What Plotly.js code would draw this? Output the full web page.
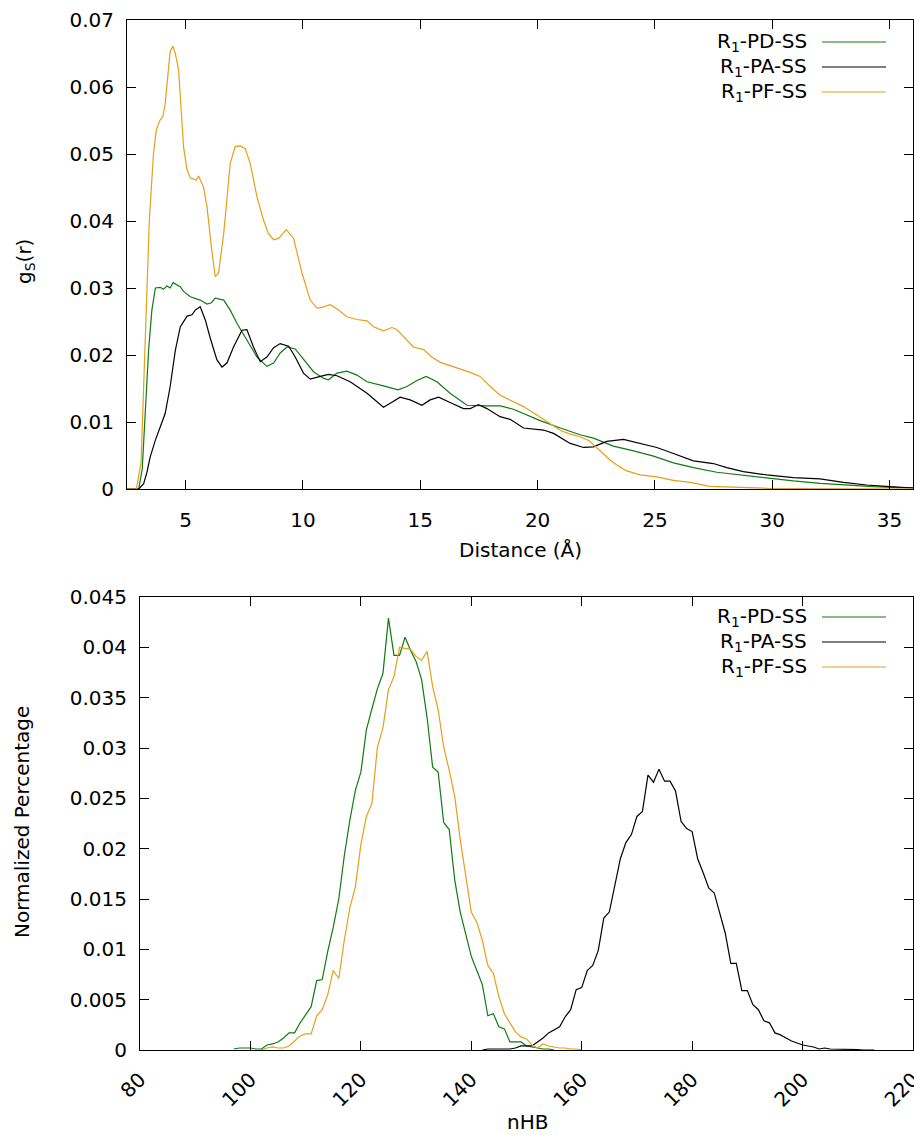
<!DOCTYPE html>
<html>
<head>
<meta charset="utf-8">
<script src="https://cdn.plot.ly/plotly-3.0.1.min.js"></script>
<style>html,body{margin:0;padding:0;background:#fff;}#chart{width:914px;height:1135px;}</style>
</head>
<body>
<div id="chart"></div>
<script>
// ---------- Top panel: g_S(r) vs distance ----------
const pdX = [2.5,3.0,3.15,3.3,3.42,3.56,3.71,3.92,4.05,4.2,4.34,4.46,4.63,4.77,4.91,5.2,5.62,5.91,6.1,6.26,6.62,6.9,7.19,7.61,8.04,8.46,8.75,9.03,9.32,9.67,10.02,10.45,10.88,11.09,11.45,11.87,12.3,12.73,13.43,14.05,14.43,14.86,15.25,15.71,16.27,16.99,17.84,18.41,18.97,19.54,20.11,20.97,21.81,22.38,23.23,24.09,24.94,25.79,26.64,27.64,28.63,29.77,30.9,32.04,33.17,34.31,35.44,36.0];
const pdY = [0,0,0.003,0.012,0.0207,0.0267,0.03,0.0301,0.0298,0.0303,0.03,0.0308,0.0304,0.0302,0.0295,0.0287,0.0282,0.0276,0.0278,0.0285,0.0282,0.0267,0.0247,0.0222,0.0197,0.0183,0.0188,0.0203,0.0212,0.0209,0.0193,0.0175,0.0165,0.0163,0.0173,0.0176,0.017,0.016,0.0154,0.0148,0.0153,0.0162,0.0168,0.016,0.0143,0.0125,0.0124,0.0124,0.0119,0.011,0.0102,0.0091,0.0081,0.0076,0.0064,0.0057,0.0049,0.0039,0.0032,0.0025,0.0021,0.0016,0.0012,0.00085,0.00055,0.00035,0.0002,0.0002];

const paX = [2.5,3.0,3.21,3.35,3.49,3.71,3.92,4.13,4.34,4.56,4.77,5.06,5.27,5.41,5.62,5.84,6.05,6.33,6.55,6.76,7.04,7.4,7.61,7.89,8.18,8.46,8.75,9.03,9.39,9.67,10.02,10.31,10.74,11.09,11.45,12.01,12.73,13.15,13.43,13.72,14.14,14.57,15.07,15.42,15.78,16.27,16.84,17.13,17.48,17.84,18.4,18.83,19.4,20.25,20.68,21.39,21.96,22.38,22.95,23.66,24.23,25.08,25.79,26.64,27.49,28.06,28.77,29.77,30.9,32.04,33.03,34.03,35.02,36.0];
const paY = [0,0,0.0008,0.0025,0.0048,0.0073,0.0093,0.0113,0.0153,0.0207,0.0242,0.0258,0.026,0.0267,0.0272,0.0252,0.0225,0.0193,0.0182,0.0188,0.0212,0.0237,0.0238,0.0212,0.019,0.0197,0.0211,0.0217,0.0213,0.0197,0.0173,0.0164,0.0168,0.0171,0.0169,0.016,0.0143,0.013,0.0122,0.0128,0.0137,0.0133,0.0125,0.0133,0.0137,0.0129,0.012,0.012,0.0126,0.012,0.0108,0.0104,0.0091,0.0088,0.0083,0.0068,0.0062,0.0063,0.0071,0.0074,0.0069,0.0062,0.0053,0.0042,0.0038,0.0032,0.0026,0.0021,0.0017,0.0015,0.001,0.0006,0.00035,0.00015];

const pfX = [2.5,2.9,3.1,3.3,3.45,3.63,3.75,3.9,4.03,4.13,4.25,4.34,4.46,4.56,4.7,4.8,4.91,5.05,5.2,5.45,5.55,5.76,5.91,6.1,6.26,6.4,6.62,6.9,7.11,7.33,7.54,7.75,8.04,8.32,8.53,8.75,8.96,9.29,9.6,9.96,10.31,10.6,10.81,11.16,11.52,11.87,12.3,12.73,13.01,13.43,13.79,14.0,14.36,14.71,15.14,15.49,15.85,16.27,16.7,17.13,17.55,17.98,18.4,18.9,19.4,19.8,20.11,20.6,21.0,21.4,21.8,22.2,22.5,22.8,23.1,23.5,23.8,24.37,25.08,25.79,26.5,27.35,28.35,29.8,31.0,33.0,36.0];
const pfY = [0,0,0.004,0.025,0.04,0.0501,0.0536,0.055,0.0556,0.0576,0.0625,0.0653,0.0661,0.065,0.0625,0.057,0.0511,0.0478,0.0464,0.0461,0.0467,0.0451,0.0421,0.036,0.0317,0.0322,0.0381,0.0486,0.0511,0.0512,0.0508,0.0486,0.0436,0.0401,0.0381,0.0372,0.0374,0.0387,0.0374,0.0322,0.0282,0.027,0.0271,0.0275,0.0267,0.0257,0.0253,0.0251,0.0242,0.0236,0.0241,0.0238,0.0225,0.0212,0.0208,0.0197,0.0189,0.0184,0.018,0.0174,0.0168,0.0153,0.014,0.0132,0.0123,0.0114,0.0107,0.0095,0.0087,0.0082,0.0078,0.0072,0.0062,0.0053,0.0043,0.0033,0.0027,0.0021,0.0018,0.0013,0.001,0.0004,0.00025,0.0001,0.00005,0.00002,0];

// ---------- Bottom panel: nHB distributions ----------
const hbPdX = [97,98,99,100,101,102,103,104,105,106,107,108,109,110,111,112,113,114,115,116,117,118,119,120,121,122,123,124,125,126,127,128,129,130,131,132,133,134,135,136,137,138,139,140,141,142,143,144,145,146,147,148,149,150,151,152,153,154,155];
const hbPdY = [0.0001,0.0002,0.0002,0.0002,0.0001,0.0001,0.0005,0.0006,0.0008,0.0012,0.0017,0.0017,0.0027,0.0035,0.0043,0.0069,0.007,0.0098,0.0122,0.015,0.0193,0.0228,0.0258,0.0276,0.0318,0.0339,0.0359,0.0374,0.0429,0.0392,0.0392,0.041,0.0397,0.0386,0.0368,0.033,0.0281,0.0276,0.0226,0.0219,0.0169,0.0137,0.0114,0.0093,0.0079,0.0065,0.0034,0.0036,0.0023,0.0021,0.0008,0.0008,0.0008,0.0004,0.0003,0.0002,0.0001,0.0001,0];

const hbPaX = [142,143,144,145,146,147,148,149,150,151,152,153,154,155,156,157,158,159,160,161,162,163,164,165,166,167,168,169,170,171,172,173,174,175,176,177,178,179,180,181,182,183,184,185,186,187,188,189,190,191,192,193,194,195,196,197,198,199,200,201,202,203,204,205,206,207,208,209,210,211,212,213];
const hbPaY = [0,0.0001,0.0001,0.0001,0.0001,0.0001,0.0002,0.0004,0.0004,0.0004,0.0008,0.0012,0.0017,0.002,0.0023,0.0033,0.004,0.006,0.0062,0.0079,0.0084,0.0099,0.0131,0.0137,0.0162,0.019,0.0206,0.0214,0.0232,0.0237,0.0273,0.0266,0.0279,0.0267,0.0267,0.0257,0.0227,0.022,0.0217,0.019,0.0176,0.0161,0.0156,0.0136,0.0116,0.0086,0.0086,0.0059,0.0059,0.0045,0.004,0.0029,0.0027,0.0017,0.0015,0.0012,0.0009,0.0007,0.0005,0.0004,0.0003,0.0001,0.0002,0.0001,0.0001,0.0001,0.00005,0.00005,0.00005,0,0,0];

const hbPfX = [102,103,104,105,106,107,108,109,110,111,112,113,114,115,116,117,118,119,120,121,122,123,124,125,126,127,128,129,130,131,132,133,134,135,136,137,138,139,140,141,142,143,144,145,146,147,148,149,150,151,152,153,154,155,156,157,158,159,160];
const hbPfY = [0,0.0002,0.0003,0.0002,0.0002,0.0004,0.0009,0.0014,0.0016,0.0016,0.0034,0.004,0.0055,0.0079,0.0071,0.0109,0.0141,0.0162,0.0204,0.0232,0.0245,0.0301,0.032,0.0358,0.0371,0.04,0.0399,0.0398,0.0391,0.0387,0.0396,0.0361,0.0338,0.0301,0.0278,0.0252,0.0209,0.0172,0.0137,0.0127,0.0109,0.0084,0.0076,0.0053,0.0036,0.0027,0.0018,0.0013,0.0011,0.0005,0.0002,0.0006,0.0004,0.0003,0.0002,0.0002,0.0001,0.0001,0];

const seriesNames = ["R<sub>1</sub>-PD-SS", "R<sub>1</sub>-PA-SS", "R<sub>1</sub>-PF-SS"];
const seriesColors = ["#117a11", "#000000", "#e5a018"];

// ---------- layout helpers ----------
const W = 914, H = 1135;
const px = v => v / W;
const py = v => 1 - v / H;
const FONT = {family: "DejaVu Sans, sans-serif", size: 20, color: "#000"};

function line(x, y, i, xa, ya) {
  return {x: x, y: y, type: "scatter", mode: "lines", name: seriesNames[i],
          xaxis: xa, yaxis: ya, showlegend: false,
          line: {color: seriesColors[i], width: 1.2}};
}

const data = [
  line(pdX, pdY, 0, "x", "y"),
  line(paX, paY, 1, "x", "y"),
  line(pfX, pfY, 2, "x", "y"),
  line(hbPdX, hbPdY, 0, "x2", "y2"),
  line(hbPaX, hbPaY, 1, "x2", "y2"),
  line(hbPfX, hbPfY, 2, "x2", "y2")
];

const axisCommon = {
  showline: true, linecolor: "#000", linewidth: 1, mirror: "ticks",
  ticks: "inside", ticklen: 9, tickwidth: 1, tickcolor: "#000",
  showgrid: false, zeroline: false, tickfont: FONT
};

const layout = {
  width: W, height: H,
  margin: {l: 0, r: 0, t: 0, b: 0},
  paper_bgcolor: "#fff", plot_bgcolor: "#fff",
  font: FONT,
  showlegend: false,
  xaxis: Object.assign({}, axisCommon, {
    domain: [px(127), px(913)], anchor: "y",
    range: [2.5, 36], tick0: 0, dtick: 5, ticklabelstandoff: 13
  }),
  yaxis: Object.assign({}, axisCommon, {
    domain: [py(489), py(20)], anchor: "x",
    range: [0, 0.07], tick0: 0, dtick: 0.01, ticklabelstandoff: 8
  }),
  xaxis2: Object.assign({}, axisCommon, {
    domain: [px(140), px(913)], anchor: "y2",
    range: [80, 220], tick0: 80, dtick: 20, tickangle: -45, ticklabelstandoff: 9,
    ticklabeloverflow: "allow"
  }),
  yaxis2: Object.assign({}, axisCommon, {
    domain: [py(1050), py(597)], anchor: "x2",
    range: [0, 0.045], tick0: 0, dtick: 0.005, ticklabelstandoff: 8
  }),
  annotations: [],
  shapes: []
};

// axis titles
layout.annotations.push(
  {text: "Distance (Å)", xref: "paper", yref: "paper", x: px(520), y: py(550), showarrow: false, font: FONT, xanchor: "center", yanchor: "middle"},
  {text: "g<sub>S</sub>(r)", xref: "paper", yref: "paper", x: px(25), y: py(262), showarrow: false, font: FONT, textangle: -90, xanchor: "center", yanchor: "middle"},
  {text: "nHB", xref: "paper", yref: "paper", x: px(527), y: py(1122), showarrow: false, font: FONT, xanchor: "center", yanchor: "middle"},
  {text: "Normalized Percentage", xref: "paper", yref: "paper", x: px(22), y: py(822), showarrow: false, font: FONT, textangle: -90, xanchor: "center", yanchor: "middle"}
);

// gnuplot-style keys (text right, sample line on the right)
const keyRowsTop = [42, 67, 92];
const keyRowsBot = [617, 642, 667];
[keyRowsTop, keyRowsBot].forEach(rows => {
  rows.forEach((yy, i) => {
    layout.annotations.push({text: seriesNames[i], xref: "paper", yref: "paper",
      x: px(809), y: py(yy), showarrow: false, font: FONT, xanchor: "right", yanchor: "middle"});
    layout.shapes.push({type: "line", xref: "paper", yref: "paper",
      x0: px(822), x1: px(886), y0: py(yy), y1: py(yy),
      line: {color: seriesColors[i], width: 1.2}});
  });
});

Plotly.newPlot("chart", data, layout, {staticPlot: true, displayModeBar: false});
</script>
</body>
</html>
